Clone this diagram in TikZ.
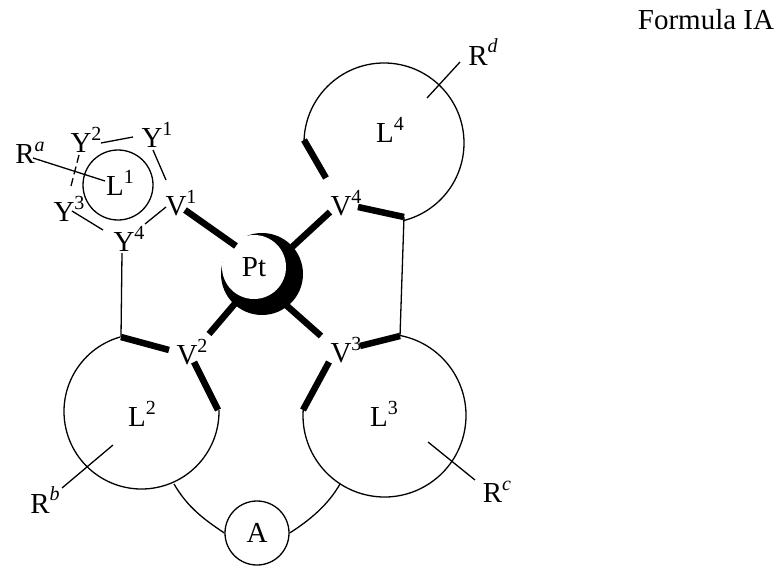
\documentclass[tikz,border=0pt]{standalone}
\usepackage{fontspec}
\setmainfont{Liberation Serif}
\newcommand\spr[1]{\raisebox{0.42em}{\fontsize{20}{20}\selectfont #1}}
\begin{document}
\begin{tikzpicture}[x=1pt,y=-1pt,
  thin/.style={line width=1.3pt},
  bond/.style={line width=6.5pt},
  lbl/.style={font=\fontsize{29}{29}\selectfont, inner sep=0pt}]
\useasboundingbox (0,0) rectangle (775,567);
\node[lbl] (f) at (706,20) {Formula IA};
% rings
\draw[thin] (384,143) ++(180:80) arc[start angle=180,end angle=436,radius=80];
\draw[thin] (384.5,415.5) ++(-79:81.5) arc[start angle=-79,end angle=184,radius=81.5];
\draw[thin] (141.5,411.5) ++(254:77.5) arc[start angle=254,end angle=-1,radius=77.5];
\draw[thin] (118,185) circle (35);
\node[draw,thin,circle,minimum size=64pt,inner sep=0pt,lbl] (A) at (257,533) {A};
% Pt
\fill (262,274) circle (41);
\node[circle,fill=white,draw=none,minimum size=64pt,inner sep=0pt,lbl] (Pt) at (254,267) {Pt};
% labels
\node[lbl] (Ra) at (30,153) {R\spr{\textit{a}}};
\node[lbl] (Y2) at (86,140) {Y\spr{2}};
\node[lbl] (Y1) at (157,135) {Y\spr{1}};
\node[lbl] (L1) at (120,183) {L\spr{1}};
\node[lbl] (V1) at (181,203) {V\spr{1}};
\node[lbl] (Y3) at (69,209) {Y\spr{3}};
\node[lbl] (Y4) at (129,239) {Y\spr{4}};
\node[lbl] (Rd) at (483,52) {R\spr{\textit{d}}};
\node[lbl] (L4) at (390,130) {L\spr{4}};
\node[lbl] (V4) at (346,203) {V\spr{4}};
\node[lbl] (V2) at (192,352) {V\spr{2}};
\node[lbl] (V3) at (346,350) {V\spr{3}};
\node[lbl] (L2) at (142,414) {L\spr{2}};
\node[lbl] (L3) at (384,414) {L\spr{3}};
\node[lbl] (Rb) at (45,500) {R\spr{\textit{b}}};
\node[lbl] (Rc) at (497,492) {R\spr{\textit{c}}};
% coordinates
\coordinate (a1) at (33,158); \coordinate (a2) at (105,181);
\coordinate (y21) at (101,143); \coordinate (y22) at (133,137);
\coordinate (y11) at (153,150); \coordinate (y12) at (166,180);
\coordinate (v11) at (166,207); \coordinate (v12) at (145,224);
\coordinate (y31) at (72,211); \coordinate (y32) at (103,230);
\coordinate (d1) at (79,155); \coordinate (d2) at (71,186);
\coordinate (y41) at (122,253); \coordinate (y42) at (121,337);
\coordinate (v21) at (169,350); \coordinate (v22) at (194,362); \coordinate (v23) at (218,410);
\coordinate (p1) at (185,210); \coordinate (p2) at (236,246);
\coordinate (p3) at (291,248); \coordinate (p4) at (330,212);
\coordinate (v41) at (358,207); \coordinate (v42) at (404,217);
\coordinate (l41) at (304,140); \coordinate (l42) at (326,178);
\coordinate (v31) at (400,336); \coordinate (v32) at (360,346);
\coordinate (v33) at (329,362); \coordinate (v34) at (303,410);
\coordinate (p5) at (286,305); \coordinate (p6) at (321,336);
\coordinate (p7) at (238,300); \coordinate (p8) at (209,334);
\coordinate (rd1) at (427,98); \coordinate (rd2) at (460,62);
\coordinate (rb1) at (62,488); \coordinate (rb2) at (113,445);
\coordinate (rc1) at (428,442); \coordinate (rc2) at (475,480);
\coordinate (c1) at (174,484); \coordinate (c2) at (340,484);
% thin lines
\draw[thin] (a1) -- (a2);
\draw[thin] (y21) -- (y22);
\draw[thin] (y11) -- (y12);
\draw[thin] (v11) -- (v12);
\draw[thin] (y31) -- (y32);
\draw[thin,dash pattern=on 8pt off 4pt] (d1) -- (d2);
\draw[thin] (y41) -- (y42);
\draw[thin] (v42) -- (v31);
\draw[thin] (rd1) -- (rd2);
\draw[thin] (rb1) -- (rb2);
\draw[thin] (rc1) -- (rc2);
\draw[thin] (c1) .. controls (188,508) and (205,520) .. (A.west);
\draw[thin] (A.east) .. controls (310,520) and (328,505) .. (c2);
% bonds
\draw[bond] (y42) -- (v21);
\draw[bond] (v22) -- (v23);
\draw[bond] (p1) -- (p2);
\draw[bond] (p3) -- (p4);
\draw[bond] (v41) -- (v42);
\draw[bond] (l41) -- (l42);
\draw[bond] (v31) -- (v32);
\draw[bond] (v33) -- (v34);
\draw[bond] (p5) -- (p6);
\draw[bond] (p7) -- (p8);
\end{tikzpicture}
\end{document}
